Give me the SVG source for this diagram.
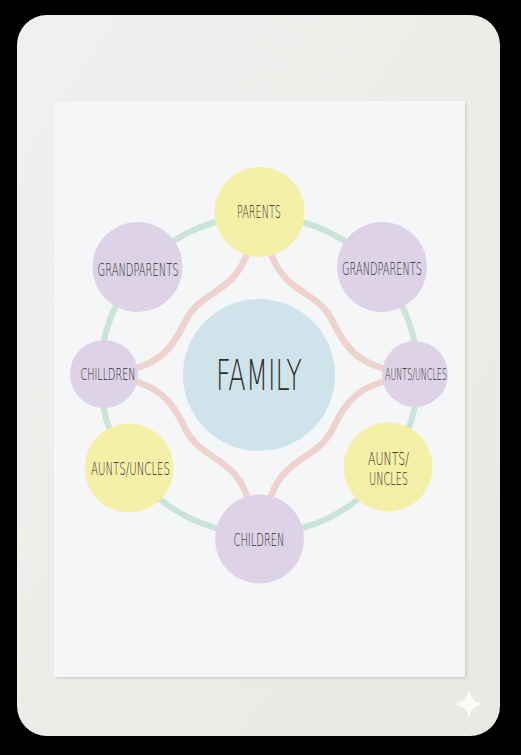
<svg xmlns="http://www.w3.org/2000/svg" width="521" height="755" viewBox="0 0 521 755">
  <defs>
    <linearGradient id="cardg" x1="0" y1="0" x2="1" y2="1">
      <stop offset="0" stop-color="#f1f0ee"/>
      <stop offset="1" stop-color="#e9e8e5"/>
    </linearGradient>
    <filter id="shadow" x="-5%" y="-5%" width="110%" height="110%">
      <feDropShadow dx="1.5" dy="1.5" stdDeviation="1.2" flood-color="#9a9690" flood-opacity="0.35"/>
    </filter>
  </defs>
  <style>
    .lbl { font-family: "DejaVu Sans", "Liberation Sans Narrow", sans-serif; fill: #2e2c2c; text-anchor: middle; font-weight: 200; }
    .purple { fill: #ddd2e6; }
    .yellow { fill: #f5f0a8; }
    .blue { fill: #cfe3ea; }
    .pink { fill: none; stroke: #eed2cc; stroke-width: 6.5; stroke-linecap: round; }
    .green { fill: none; stroke: #c9e5d8; stroke-width: 6; }
  </style>

  <rect x="0" y="0" width="521" height="755" fill="#000"/>
  <rect x="17" y="15" width="483" height="721" rx="30" ry="30" fill="url(#cardg)"/>
  <rect x="54" y="101" width="411" height="576" fill="#f5f6f8" filter="url(#shadow)"/>
  <path d="M469 690 Q471 702 483 704 Q471 706 469 718 Q467 706 455 704 Q467 702 469 690 Z" fill="#fbfbfa"/>

  <g id="connectors">
    <circle class="green" cx="259" cy="375" r="159"/>
    <path class="pink" d="M247 254 C232 295, 200 290, 185 322 S155 362, 137 368"/>
    <path class="pink" d="M271 254 C286 295, 318 290, 333 322 S363 362, 382 368"/>
    <path class="pink" d="M247 496 C232 455, 200 460, 185 428 S155 388, 137 382"/>
    <path class="pink" d="M271 496 C286 455, 318 460, 333 428 S363 388, 382 382"/>
  </g>

  <g id="family">
    <circle class="blue" cx="259" cy="375" r="76"/>
    <text class="lbl" x="259" y="390" font-size="42" textLength="86" lengthAdjust="spacingAndGlyphs">FAMILY</text>
  </g>
  <g id="parents">
    <circle class="yellow" cx="259.5" cy="212" r="45"/>
    <text class="lbl" x="259" y="218" font-size="17" textLength="44" lengthAdjust="spacingAndGlyphs">PARENTS</text>
  </g>
  <g id="grandparents-left">
    <circle class="purple" cx="137.5" cy="267" r="45"/>
    <text class="lbl" x="138" y="276" font-size="18" textLength="81" lengthAdjust="spacingAndGlyphs">GRANDPARENTS</text>
  </g>
  <g id="grandparents-right">
    <circle class="purple" cx="382" cy="267" r="45"/>
    <text class="lbl" x="382" y="275" font-size="18" textLength="80" lengthAdjust="spacingAndGlyphs">GRANDPARENTS</text>
  </g>
  <g id="children-left">
    <circle class="purple" cx="104" cy="374" r="34"/>
    <text class="lbl" x="108" y="380" font-size="15" textLength="55" lengthAdjust="spacingAndGlyphs">CHILLDREN</text>
  </g>
  <g id="aunts-uncles-right-small">
    <circle class="purple" cx="415" cy="374" r="33"/>
    <text class="lbl" x="416" y="380" font-size="15" textLength="62" lengthAdjust="spacingAndGlyphs">AUNTS/UNCLES</text>
  </g>
  <g id="aunts-uncles-left">
    <circle class="yellow" cx="129" cy="468" r="44.5"/>
    <text class="lbl" x="130.5" y="475" font-size="18" textLength="79" lengthAdjust="spacingAndGlyphs">AUNTS/UNCLES</text>
  </g>
  <g id="aunts-uncles-right">
    <circle class="yellow" cx="388" cy="467" r="44.5"/>
    <text class="lbl" x="388.5" y="465" font-size="18" textLength="41" lengthAdjust="spacingAndGlyphs">AUNTS/</text>
    <text class="lbl" x="388.5" y="485" font-size="18" textLength="39" lengthAdjust="spacingAndGlyphs">UNCLES</text>
  </g>
  <g id="children-bottom">
    <circle class="purple" cx="259.5" cy="539" r="44.5"/>
    <text class="lbl" x="259" y="546" font-size="18" textLength="51" lengthAdjust="spacingAndGlyphs">CHILDREN</text>
  </g>
</svg>
